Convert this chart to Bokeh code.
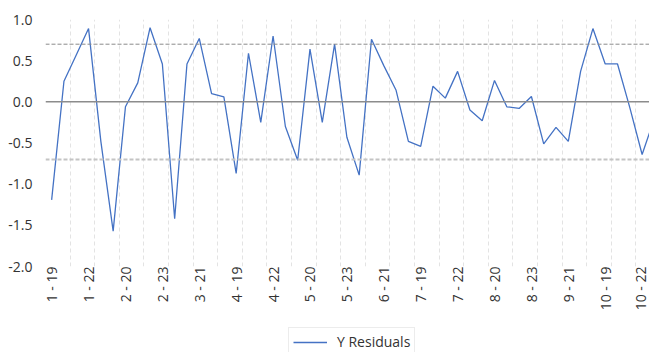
from bokeh.plotting import figure
from bokeh.layouts import column
from bokeh.models import (FixedTicker, Span, Legend, LegendItem, Range1d,
                          NumeralTickFormatter, ColumnDataSource)
from bokeh.embed import file_html
from bokeh.resources import INLINE
import math

categories = [
    "1 - 19", "1 - 20", "1 - 21", "1 - 22", "1 - 23",
    "2 - 19", "2 - 20", "2 - 21", "2 - 22", "2 - 23",
    "3 - 19", "3 - 20", "3 - 21", "3 - 22", "3 - 23",
    "4 - 19", "4 - 20", "4 - 21", "4 - 22", "4 - 23",
    "5 - 19", "5 - 20", "5 - 21", "5 - 22", "5 - 23",
    "6 - 19", "6 - 20", "6 - 21", "6 - 22", "6 - 23",
    "7 - 19", "7 - 20", "7 - 21", "7 - 22", "7 - 23",
    "8 - 19", "8 - 20", "8 - 21", "8 - 22", "8 - 23",
    "9 - 19", "9 - 20", "9 - 21", "9 - 22", "9 - 23",
    "10 - 19", "10 - 20", "10 - 21", "10 - 22", "10 - 23",
]

y_residuals = [
    -1.19, 0.25, 0.57, 0.89, -0.48, -1.57, -0.06, 0.23, 0.90, 0.46,
    -1.42, 0.46, 0.77, 0.10, 0.06, -0.87, 0.59, -0.25, 0.80, -0.30,
    -0.71, 0.64, -0.25, 0.70, -0.43, -0.89, 0.76, 0.44, 0.14, -0.48,
    -0.54, 0.19, 0.045, 0.37, -0.10, -0.23, 0.26, -0.06, -0.08, 0.065,
    -0.51, -0.31, -0.48, 0.37, 0.89, 0.46, 0.46, -0.07, -0.64, -0.20,
]

y_ticks = [-2.0, -1.5, -1.0, -0.5, 0.0, 0.5, 1.0]
upper_limit = 0.7
center_level = 0.0
lower_limit = -0.7
label_step = 3
grid_step = 2
series_name = "Y Residuals"

FONT = "Open Sans"
TEXT = "#333333"
LINE = "#4472C4"

idx = list(range(len(categories)))
src = ColumnDataSource(dict(x=idx, y=y_residuals))

p = figure(width=649, height=326, output_backend="svg", toolbar_location=None,
           x_range=Range1d(-0.5, 48.6), y_range=Range1d(-2.0, 1.0),
           min_border_left=45, min_border_top=19, min_border_right=0,
           min_border_bottom=60)
p.outline_line_color = None
p.background_fill_color = "white"
p.border_fill_color = "white"

# reference lines
p.add_layout(Span(location=upper_limit, dimension="width", line_color="#8a8a8a",
                  line_width=1, line_dash="4 2"))
p.add_layout(Span(location=lower_limit, dimension="width", line_color="#c4c4c4",
                  line_width=2, line_dash="4 2"))
p.add_layout(Span(location=center_level, dimension="width", line_color="#8c8c8c",
                  line_width=1.5))

r = p.line("x", "y", source=src, line_color=LINE, line_width=1.3)

# axes
label_ticks = idx[::label_step]
p.xaxis.ticker = FixedTicker(ticks=label_ticks)
p.xaxis.major_label_overrides = {i: categories[i] for i in label_ticks}
p.xaxis.major_label_orientation = math.pi / 2
p.xaxis.major_label_text_font = FONT
p.xaxis.major_label_text_font_size = "14px"
p.xaxis.major_label_text_color = TEXT
p.xaxis.axis_line_color = None
p.xaxis.major_tick_line_color = None
p.xaxis.minor_tick_line_color = None
p.xaxis.major_tick_out = 0
p.xaxis.major_label_standoff = 0

p.yaxis.ticker = FixedTicker(ticks=y_ticks)
p.yaxis.formatter = NumeralTickFormatter(format="0.0")
p.yaxis.major_label_text_font = FONT
p.yaxis.major_label_text_font_size = "14px"
p.yaxis.major_label_text_color = TEXT
p.yaxis.axis_line_color = None
p.yaxis.major_tick_line_color = None
p.yaxis.minor_tick_line_color = None
p.yaxis.major_label_standoff = 7

p.ygrid.grid_line_color = None
p.xgrid.ticker = FixedTicker(ticks=[i + 1.5 for i in idx[::grid_step]])
p.xgrid.grid_line_color = "#e3e3e3"
p.xgrid.grid_line_dash = "4 3"
p.xgrid.grid_line_width = 1

# legend strip below the chart
pl = figure(width=649, height=26, output_backend="svg", toolbar_location=None,
            x_range=Range1d(0, 1), y_range=Range1d(0, 1),
            x_axis_location=None, y_axis_location=None, min_border=0)
pl.outline_line_color = None
pl.grid.visible = False
rl = pl.line(x=[5, 6], y=[5, 5], line_color=LINE, line_width=1.3)
legend = Legend(items=[LegendItem(label=series_name, renderers=[rl])],
                location=(243, -4), orientation="horizontal",
                border_line_color="#d9d9d9", border_line_width=1,
                label_text_font=FONT, label_text_font_size="14px",
                label_text_color=TEXT, glyph_width=34, glyph_height=10,
                label_height=10, padding=4, margin=0, spacing=0,
                label_standoff=10)
pl.add_layout(legend, "center")

layout = column(p, pl, spacing=0)
open("out.html", "w").write(file_html(layout, INLINE))
